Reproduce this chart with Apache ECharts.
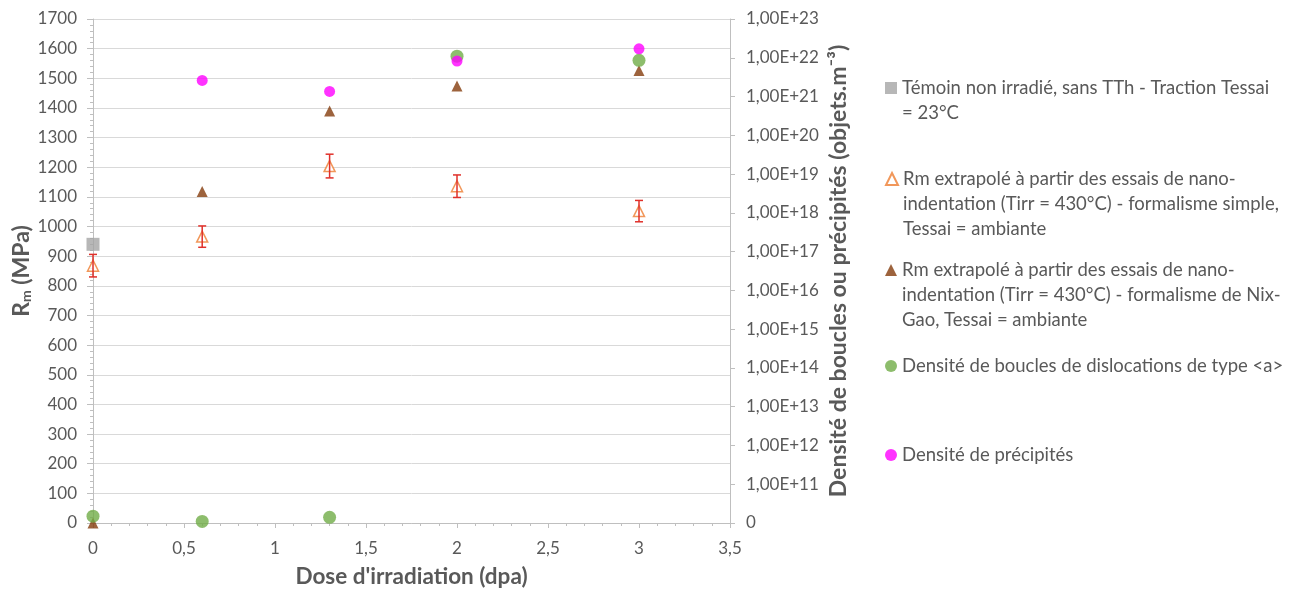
<!DOCTYPE html>
<html>
<head>
<meta charset="utf-8">
<script src="https://cdn.jsdelivr.net/npm/echarts@6/dist/echarts.min.js"></script>
<style>html,body{margin:0;padding:0;background:#fff}#c{width:1295px;height:590px}</style>
</head>
<body>
<div id="c"></div>
<script>
// ---- data ----
const seriesNames = [
  "Témoin non irradié, sans TTh - Traction Tessai = 23°C",
  "Rm extrapolé à partir des essais de nano-indentation (Tirr = 430°C) - formalisme simple, Tessai = ambiante",
  "Rm extrapolé à partir des essais de nano-indentation (Tirr = 430°C) - formalisme de Nix-Gao, Tessai = ambiante",
  "Densité de boucles de dislocations de type <a>",
  "Densité de précipités"
];
const legendLines = [
  ["Témoin non irradié, sans TTh - Traction Tessai", "= 23°C"],
  ["Rm extrapolé à partir des essais de nano-", "indentation (Tirr = 430°C) - formalisme simple,", "Tessai = ambiante"],
  ["Rm extrapolé à partir des essais de nano-", "indentation (Tirr = 430°C) - formalisme de Nix-", "Gao, Tessai = ambiante"],
  ["Densité de boucles de dislocations de type <a>"],
  ["Densité de précipités"]
];
const temoinX = [0];
const temoinRm = [940];
const simpleX = [0, 0.6, 1.3, 2, 3];
const simpleRm = [868, 966, 1204, 1136, 1052];
const simpleErr = [38, 36, 40, 38, 36];
const nixX = [0, 0.6, 1.3, 2, 3];
const nixRm = [0, 1118, 1390, 1474, 1526];
const bouclesX = [0, 0.6, 1.3, 2, 3];
const bouclesDens = [1.5e10, 1.1e10, 1.4e10, 1.1e22, 8.6e21];
const precipX = [0.6, 1.3, 2, 3];
const precipDens = [2.6e21, 1.35e21, 8.2e21, 1.7e22];

const zip = (xs, ys) => xs.map((x, i) => [x, ys[i]]);
const FONT = 'Lato';
const GREY = '#595959';

const chart = echarts.init(document.getElementById('c'));
const legendTops = [45.5, 111.5, 202.5, 348.5, 437.5];

// leading blank lines so the icon sits on the first text line
const legendText = lines => '\n'.repeat(lines.length - 1) + lines.join('\n');

const option = {
  animation: false,
  textStyle: { fontFamily: FONT },
  grid: { left: 93, right: 565, top: 19, bottom: 67, containLabel: false, outerBoundsMode: 'none' },
  legend: seriesNames.map((n, i) => ({
    data: [n],
    left: 880,
    top: legendTops[i],
    orient: 'vertical',
    itemWidth: 12,
    itemHeight: 12,
    itemGap: 0,
    selectedMode: false,
    formatter: () => legendText(legendLines[i]),
    textStyle: { fontFamily: FONT, fontSize: 18.5, color: GREY, lineHeight: 25 }
  })),
  xAxis: {
    type: 'value', min: 0, max: 3.5, interval: 0.5,
    name: "Dose d'irradiation (dpa)", nameLocation: 'middle', nameGap: 42,
    nameTextStyle: { fontFamily: FONT, fontSize: 22.5, fontWeight: 'bold', color: GREY },
    axisLine: { show: true, lineStyle: { color: '#BFBFBF' } },
    axisTick: { show: true, length: 5, lineStyle: { color: '#BFBFBF' } },
    minorTick: { show: true, splitNumber: 5, length: 3, lineStyle: { color: '#BFBFBF' } },
    splitLine: { show: false },
    axisLabel: { fontFamily: FONT, fontSize: 17, color: GREY, margin: 17,
      formatter: v => String(v).replace('.', ',') }
  },
  yAxis: [
    {
      type: 'value', min: 0, max: 1700, interval: 100, position: 'left',
      name: '{a|R}{b|m}{a| (MPa)}', nameLocation: 'middle', nameGap: 58, nameRotate: 90,
      nameTextStyle: { rich: {
        a: { fontFamily: FONT, fontSize: 23, fontWeight: 'bold', color: GREY },
        b: { fontFamily: FONT, fontSize: 14, fontWeight: 'bold', color: GREY, padding: [10, 0, 0, 0] }
      } },
      axisLine: { show: true, lineStyle: { color: '#BFBFBF' } },
      axisTick: { show: true, length: 6, lineStyle: { color: '#BFBFBF' } },
      minorTick: { show: true, splitNumber: 5, length: 3, lineStyle: { color: '#BFBFBF' } },
      splitLine: { show: true, lineStyle: { color: '#D9D9D9', width: 1 } },
      axisLabel: { fontFamily: FONT, fontSize: 17, color: GREY, margin: 16, formatter: v => String(v) }
    },
    {
      type: 'log', logBase: 10, min: 1e10, max: 1e23, interval: 1, position: 'right',
      alignTicks: false,
      name: 'Densité de boucles ou précipités (objets.m⁻³)', nameLocation: 'middle', nameGap: 97, nameRotate: 90,
      nameTextStyle: { fontFamily: FONT, fontSize: 23, fontWeight: 'bold', color: GREY },
      axisLine: { show: true, lineStyle: { color: '#BFBFBF' } },
      axisTick: { show: true, length: 5, lineStyle: { color: '#BFBFBF' } },
      splitLine: { show: false },
      axisLabel: { fontFamily: FONT, fontSize: 17, color: GREY, margin: 16,
        formatter: v => (v <= 1.0001e10 ? '0' : '1,00E+' + Math.round(Math.log10(v))) }
    }
  ],
  series: [
    {
      name: seriesNames[0], type: 'scatter', symbol: 'rect', symbolSize: 13,
      itemStyle: { color: '#A5A5A5' }, data: zip(temoinX, temoinRm), z: 3
    },
    {
      name: seriesNames[1], type: 'scatter', symbol: 'triangle', symbolSize: 11,
      itemStyle: { color: '#FFFFFF', borderColor: '#ED7D31', borderWidth: 1.5 },
      data: zip(simpleX, simpleRm), z: 3
    },
    {
      name: 'errbars', type: 'custom', z: 4,
      data: simpleX.map((x, i) => [x, simpleRm[i] - simpleErr[i], simpleRm[i] + simpleErr[i]]),
      encode: { x: 0, y: [1, 2] },
      renderItem: (params, api) => {
        const lo = api.coord([api.value(0), api.value(1)]);
        const hi = api.coord([api.value(0), api.value(2)]);
        const c = 4;
        const st = { stroke: '#E0302A', lineWidth: 1.5 };
        return { type: 'group', children: [
          { type: 'line', shape: { x1: lo[0], y1: lo[1], x2: hi[0], y2: hi[1] }, style: st },
          { type: 'line', shape: { x1: lo[0] - c, y1: lo[1], x2: lo[0] + c, y2: lo[1] }, style: st },
          { type: 'line', shape: { x1: hi[0] - c, y1: hi[1], x2: hi[0] + c, y2: hi[1] }, style: st }
        ] };
      }
    },
    {
      name: seriesNames[2], type: 'scatter', symbol: 'triangle', symbolSize: 11,
      itemStyle: { color: '#843C0C' }, data: zip(nixX, nixRm), z: 3
    },
    {
      name: seriesNames[3], type: 'scatter', symbol: 'circle', symbolSize: 13, yAxisIndex: 1,
      itemStyle: { color: '#70AD47' }, data: zip(bouclesX, bouclesDens), z: 3
    },
    {
      name: seriesNames[4], type: 'scatter', symbol: 'circle', symbolSize: 11, yAxisIndex: 1,
      itemStyle: { color: '#FF00FF' }, data: zip(precipX, precipDens), z: 3
    }
  ]
};
chart.setOption(option);
</script>
</body>
</html>
